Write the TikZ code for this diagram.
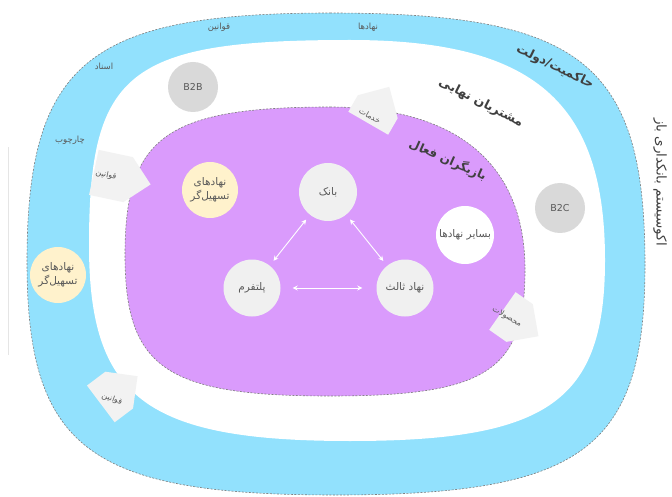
\documentclass[tikz,border=0pt]{standalone}
\usepackage{fontspec}
\usetikzlibrary{arrows.meta,shapes.arrows}
\TeXXeTstate=1
\newfontfamily\arabicfont[Script=Arabic]{DejaVu Sans}
\definecolor{bandblue}{HTML}{92E1FD}
\definecolor{actpurple}{HTML}{DA9BFC}
\definecolor{dashgray}{HTML}{7F7F7F}
\definecolor{circgray}{HTML}{F0F0F0}
\definecolor{bgray}{HTML}{D9D9D9}
\definecolor{cream}{HTML}{FFF2CC}
\definecolor{txtgray}{HTML}{595959}
\definecolor{ttlgray}{HTML}{404040}
\definecolor{arrfill}{HTML}{F2F2F2}
\begin{document}
\begin{tikzpicture}[x=1pt,y=-1pt,
  dashborder/.style={draw=dashgray, dash pattern=on 2pt off 1.5pt, line width=0.6pt},
  circ/.style={circle, minimum size=#1, inner sep=0pt, text=txtgray, align=center,
    font=\arabicfont\fontsize{10.5}{14}\selectfont},
  lbl/.style={text=txtgray, inner sep=0pt, font=\arabicfont\fontsize{8.5}{10}\selectfont},
  albl/.style={text=txtgray, inner sep=0pt, font=\arabicfont\fontsize{8}{9}\selectfont},
  ttl/.style={text=ttlgray, inner sep=0pt, font=\arabicfont\bfseries\fontsize{12.5}{14}\selectfont},
  blockarrow/.style={single arrow, fill=arrfill, inner sep=0pt, inner ysep=12pt,
    single arrow head extend=0pt, minimum width=46pt},
  conn/.style={draw=white, line width=0.9pt, {Stealth[length=5pt,width=5pt]}-{Stealth[length=5pt,width=5pt]}}
]
\useasboundingbox (0,0) rectangle (672,497);
% thin line at left
\draw[gray!20, line width=0.6pt] (8,147) -- (8,355);
% outer band
\path[fill=bandblue, dashborder]
  (330,13) .. controls (582,13) and (645,63) .. (645,265)
  .. controls (645,449) and (583,495) .. (335,495)
  .. controls (89,495) and (27,448) .. (27,262)
  .. controls (27,63) and (88,13) .. (330,13) -- cycle;
% inner white
\fill[white]
  (350,40) .. controls (534,40) and (605,102) .. (605,260)
  .. controls (605,401) and (549,441) .. (350,441)
  .. controls (146,441) and (89,398) .. (89,245)
  .. controls (89,71) and (128,40) .. (350,40) -- cycle;
% active players
\path[fill=actpurple, dashborder]
  (330,107) .. controls (457,107) and (525,164) .. (525,270)
  .. controls (525,371) and (486,396) .. (330,396)
  .. controls (166,396) and (125,368) .. (125,255)
  .. controls (125,137) and (166,107) .. (330,107) -- cycle;

% band labels
\node[lbl] (l1) at (219,27) {\beginR قوانین\endR};
\node[lbl] (l2) at (368,27) {\beginR نهادها\endR};
\node[lbl] (l3) at (104,66) {\beginR اسناد\endR};
\node[lbl] (l4) at (70,140) {\beginR چارچوب\endR};
\node[ttl, rotate=-26] (t1) at (555,67) {\beginR حاکمیت/دولت\endR};
\node[ttl, rotate=-27] (t2) at (481,103) {\beginR مشتریان نهایی\endR};
\node[ttl, rotate=-24, font=\arabicfont\bfseries\fontsize{12}{14}\selectfont] (t3) at (448,160) {\beginR بازیگران فعال\endR};
\node[text=ttlgray, inner sep=0pt, font=\arabicfont\fontsize{13.5}{15}\selectfont, rotate=-90] (t4) at (660,182) {\beginR اکوسیستم بانکداری باز\endR};

% circles
\node[circ=56pt, fill=cream] (f1) at (58,275) {\beginR نهادهای\endR\\\beginR تسهیل‌گر\endR};
\node[circ=56pt, fill=cream] (f2) at (210,190) {\beginR نهادهای\endR\\\beginR تسهیل‌گر\endR};
\node[circ=50pt, fill=bgray, font=\arabicfont\fontsize{9.5}{11}\selectfont] (b2b) at (193,87) {B2B};
\node[circ=50pt, fill=bgray, font=\arabicfont\fontsize{9.5}{11}\selectfont] (b2c) at (560,208) {B2C};
\node[circ=58pt, fill=circgray] (bank) at (328,192) {\beginR بانک\endR};
\node[circ=57pt, fill=circgray] (plat) at (252,288) {\beginR پلتفرم\endR};
\node[circ=57pt, fill=circgray] (third) at (405,288) {\beginR نهاد ثالث\endR};
\node[circ=58pt, fill=white] (other) at (465,235) {\beginR بسایر نهادها\endR};

% connectors
\draw[conn, shorten <=6pt, shorten >=6pt] (bank) -- (plat);
\draw[conn, shorten <=6pt, shorten >=6pt] (bank) -- (third);
\draw[conn, shorten <=12pt, shorten >=14pt] (plat) -- (third);

% block arrows
\node[blockarrow, rotate=-12, minimum height=58pt] (a1) at (111,176) {};
\node[albl, rotate=-12] (a1t) at (106,175) {\beginR قوانین\endR};
\node[blockarrow, rotate=60, minimum height=42pt] (a2) at (373,115) {};
\node[albl, rotate=-30] (a2t) at (370,116) {\beginR خدمات\endR};
\node[blockarrow, rotate=-35, minimum height=44pt] (a3) at (511,317) {};
\node[albl, rotate=-30] (a3t) at (507,317) {\beginR محصولات\endR};
\node[blockarrow, rotate=37, minimum height=46pt] (a4) at (110,397) {};
\node[albl, rotate=-20] (a4t) at (112,399) {\beginR قوانین\endR};
\end{tikzpicture}
\end{document}
